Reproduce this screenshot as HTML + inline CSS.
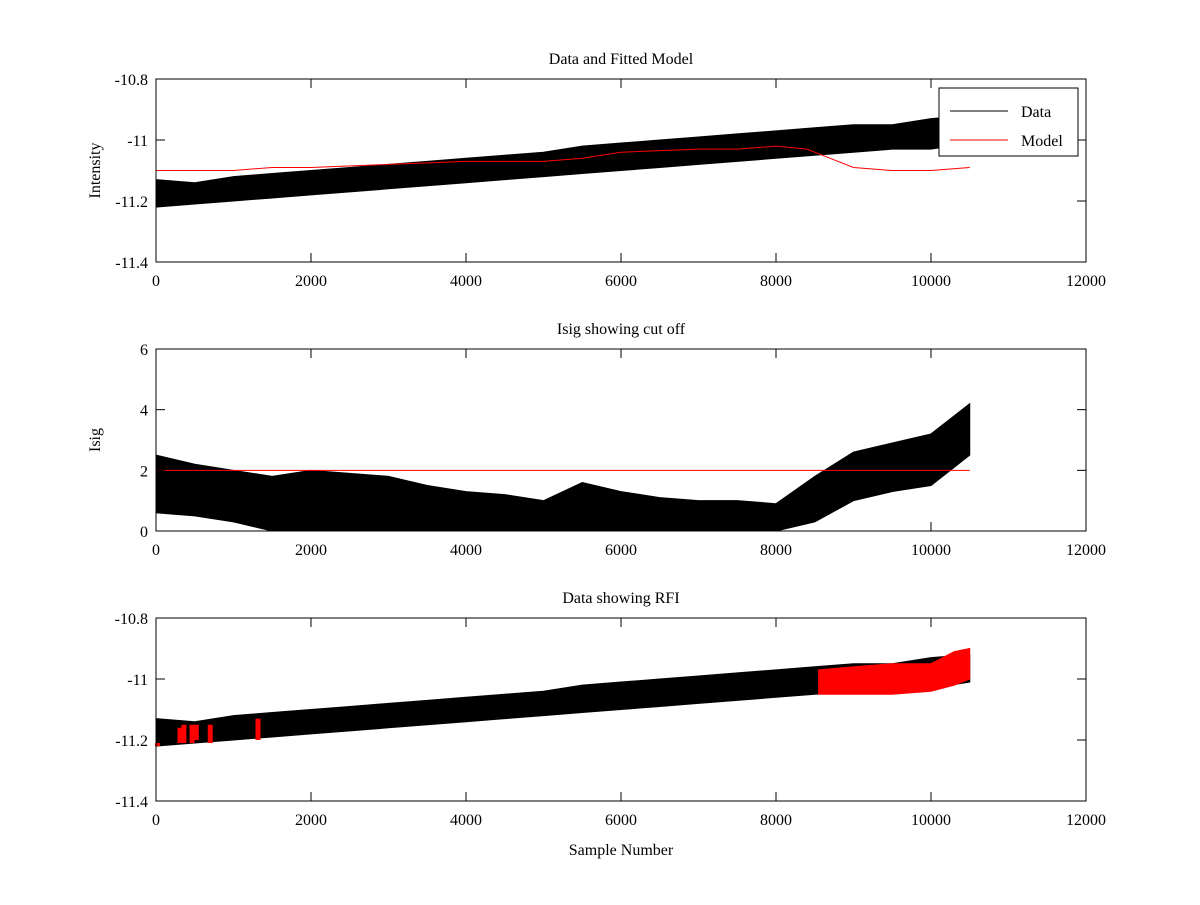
<!DOCTYPE html>
<html><head><meta charset="utf-8">
<style>
body{margin:0;background:#fff;}
svg text{font-family:"Liberation Serif",serif;font-size:16px;fill:#000;}
</style></head>
<body>
<svg id="fig" width="1200" height="900" xmlns="http://www.w3.org/2000/svg"></svg>
<script>
// ---- data ----
const xTicks=[0,2000,4000,6000,8000,10000,12000];
const envX=[0,500,1000,1500,2000,2500,3000,3500,4000,4500,5000,5500,6000,6500,7000,7500,8000,8500,9000,9500,10000,10500];
const dataLow=[-11.22,-11.21,-11.2,-11.19,-11.18,-11.17,-11.16,-11.15,-11.14,-11.13,-11.12,-11.11,-11.1,-11.09,-11.08,-11.07,-11.06,-11.05,-11.04,-11.03,-11.03,-11.01];
const dataHigh=[-11.13,-11.14,-11.12,-11.11,-11.1,-11.09,-11.08,-11.07,-11.06,-11.05,-11.04,-11.02,-11.01,-11.0,-10.99,-10.98,-10.97,-10.96,-10.95,-10.95,-10.93,-10.92];
const modelX=[0,1000,1500,2000,3000,4000,5000,5500,6000,7000,7500,8000,8400,8700,9000,9500,10000,10500];
const modelY=[-11.1,-11.1,-11.09,-11.09,-11.08,-11.07,-11.07,-11.06,-11.04,-11.03,-11.03,-11.02,-11.03,-11.06,-11.09,-11.1,-11.1,-11.09];
const isigLow=[0.6,0.5,0.3,0,0,0,0,0,0,0,0,0,0,0,0,0,0,0.3,1.0,1.3,1.5,2.5];
const isigHigh=[2.5,2.2,2.0,1.8,2.0,1.9,1.8,1.5,1.3,1.2,1.0,1.6,1.3,1.1,1.0,1.0,0.9,1.8,2.6,2.9,3.2,4.2];
const cutX=[0,10500];
const cutY=[2,2];
const rfiX=[8550,9000,9500,10000,10300,10500];
const rfiLow=[-11.05,-11.05,-11.05,-11.04,-11.02,-11.0];
const rfiHigh=[-10.97,-10.96,-10.95,-10.95,-10.91,-10.9];
const clusterX=[20,310,360,465,520,700,1316];
const clusterLow=[-11.22,-11.21,-11.21,-11.21,-11.2,-11.21,-11.2];
const clusterHigh=[-11.21,-11.16,-11.15,-11.15,-11.15,-11.15,-11.13];

// ---- layout ----
const NS="http://www.w3.org/2000/svg";
const svg=document.getElementById('fig');
function el(tag,attrs,parent){const e=document.createElementNS(NS,tag);for(const k in attrs)e.setAttribute(k,attrs[k]);(parent||svg).appendChild(e);return e;}
const X0=156,X1=1086;
function sx(v){return X0+(v-0)/(12000)*(X1-X0);}
function axes(top,bot,ymin,ymax,yticks,ylabels,title,ylab,name){
  const g=el('g',{});
  
  
  const sy=v=>bot-(v-ymin)/(ymax-ymin)*(bot-top);
  const fr=el('rect',{x:X0,y:top,width:X1-X0,height:bot-top,fill:'#fff',stroke:'none'},g);
  return {g,sy,finish:function(){
    el('rect',{x:X0,y:top,width:X1-X0,height:bot-top,fill:'none',stroke:'#000','stroke-width':1},g);
    xTicks.forEach(t=>{const x=sx(t);
      el('line',{x1:x,y1:bot,x2:x,y2:bot-9,stroke:'#000'},g);
      el('line',{x1:x,y1:top,x2:x,y2:top+9,stroke:'#000'},g);
      const tx=el('text',{x:x,y:bot+24,'text-anchor':'middle'},g);tx.textContent=t;
      
      });
    yticks.forEach((t,i)=>{const y=sy(t);
      el('line',{x1:X0,y1:y,x2:X0+9,y2:y,stroke:'#000'},g);
      el('line',{x1:X1,y1:y,x2:X1-9,y2:y,stroke:'#000'},g);
      const tx=el('text',{x:X0-8,y:y+6,'text-anchor':'end'},g);tx.textContent=ylabels[i];
      
      });
    const tt=el('text',{x:(X0+X1)/2,y:top-15,'text-anchor':'middle'},g);tt.textContent=title;
    
    
    const yc=(top+bot)/2;
    const yl=el('text',{x:100,y:yc,'text-anchor':'middle',transform:'rotate(-90 100 '+yc+')'},g);yl.textContent=ylab;
    
    
  }};
}
function band(ax,xs,lo,hi,color,name){
  let d='M'+xs.map((x,i)=>sx(x)+','+ax.sy(hi[i])).join(' L');
  d+=' L'+xs.map((x,i)=>sx(x)+','+ax.sy(lo[i])).reverse().join(' L')+'Z';
  const p=el('path',{d:d,fill:color,stroke:color,'stroke-width':1},ax.g);
  
  
}
function line(ax,xs,ys,color,name){
  const p=el('polyline',{points:xs.map((x,i)=>sx(x)+','+ax.sy(ys[i])).join(' '),fill:'none',stroke:color,'stroke-width':1},ax.g);
  
  
}
// plot 1
const a1=axes(79,262,-11.4,-10.8,[-10.8,-11,-11.2,-11.4],['-10.8','-11','-11.2','-11.4'],'Data and Fitted Model','Intensity','data-model-axes');
band(a1,envX,dataLow,dataHigh,'#000','data-series');
line(a1,modelX,modelY,'#f00','model-series');
a1.finish();
// legend
const lg=el('g',{});


el('rect',{x:939,y:88,width:139,height:68,fill:'#fff',stroke:'#000'},lg);
el('line',{x1:950,y1:111,x2:1008,y2:111,stroke:'#000'},lg);
el('line',{x1:950,y1:140,x2:1008,y2:140,stroke:'#f00'},lg);
const t1=el('text',{x:1021,y:117},lg);t1.textContent='Data';


const t2=el('text',{x:1021,y:146},lg);t2.textContent='Model';


// plot 2
const a2=axes(349,531,0,6,[0,2,4,6],['0','2','4','6'],'Isig showing cut off','Isig','isig-axes');
band(a2,envX,isigLow,isigHigh,'#000','isig-series');
line(a2,cutX,cutY,'#f00','cutoff-line');
a2.finish();
// plot 3
const a3=axes(618,801,-11.4,-10.8,[-10.8,-11,-11.2,-11.4],['-10.8','-11','-11.2','-11.4'],'Data showing RFI','','rfi-axes');
band(a3,envX,dataLow,dataHigh,'#000','data-series-rfi');
band(a3,rfiX,rfiLow,rfiHigh,'#f00','rfi-points');
clusterX.forEach((x,i)=>{
  const r=el('rect',{x:sx(x)-2.5,y:a3.sy(clusterHigh[i]),width:5,height:a3.sy(clusterLow[i])-a3.sy(clusterHigh[i]),fill:'#f00'},a3.g);
  
  
});
a3.finish();
const xl=el('text',{x:621,y:855,'text-anchor':'middle'});xl.textContent='Sample Number';


</script>
</body></html>
